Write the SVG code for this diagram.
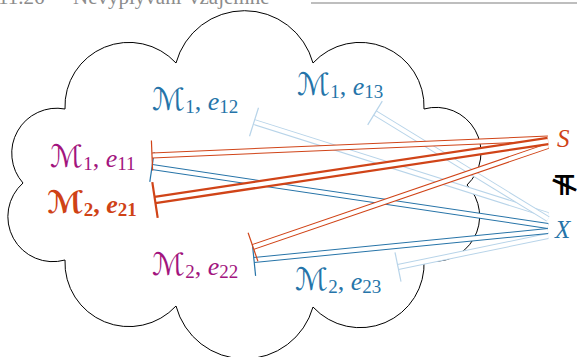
<svg xmlns="http://www.w3.org/2000/svg" xmlns:xlink="http://www.w3.org/1999/xlink" width="577" height="357" viewBox="0 0 577 357">
  <style>
    .cloud { fill: #ffffff; stroke: #000000; stroke-width: 1; }
    .head { font-family: "Liberation Serif", serif; font-size: 21px; fill: #8c8c8c; }
    .rule { stroke: #a8a8a8; stroke-width: 1.5; }
    .lbl { font-family: "Liberation Serif", "DejaVu Serif", serif; font-size: 26px; }
    .cal { font-family: "DejaVu Serif", "DejaVu Sans", serif; font-size: 31px; }
    .it { font-style: italic; }
    .sub { font-size: 19px; }
    .bold { font-weight: bold; }
    .purple { fill: #a2147e; }
    .red { fill: #cf4216; }
    .blue { fill: #2574a9; }
    .var { font-family: "Liberation Serif", serif; font-style: italic; font-size: 25px; }
    .nm { font-family: "DejaVu Sans", sans-serif; font-size: 27px; font-weight: bold; fill: #000000; }
    .out { fill: none; stroke-width: 6; stroke-linecap: butt; }
    .out.thick { stroke-width: 8.5; }
    .in { fill: none; stroke: #ffffff; stroke-width: 4; stroke-linecap: butt; }
    .bar { fill: none; stroke-width: 1.2; }
    .bar.thick { stroke-width: 2.2; }
    .s-red { stroke: #d04418; }
    .s-blue { stroke: #2774a8; }
    .s-light { stroke: #b8d4e9; }
  </style>
  <defs>
    <path id="p-e11-S" d="M152,155.5 L548,138.5"/>
    <path id="p-e11-X" d="M152,167 L548,226"/>
    <path id="p-e21-S" d="M155,200 L548,141"/>
    <path id="p-e12-X" d="M254,122 L548,215"/>
    <path id="p-e13-X" d="M375,113 L548,219"/>
    <path id="p-e22-S" d="M253,247 L548,146"/>
    <path id="p-e22-X" d="M254,260 L548,231"/>
    <path id="p-e23-X" d="M398,267 L548,236"/>
  </defs>

  <!-- running head, mostly above the page edge -->
  <text class="head" y="4"><tspan x="-2">11.26</tspan><tspan x="73">Nevyplývání</tspan><tspan x="189">vzájemné</tspan></text>
  <line class="rule" x1="311" y1="3" x2="577" y2="3"/>

  <!-- the cloud of models -->
  <path class="cloud" d="M23,183 A45,45 0 0 1 65,109 A64,64 0 0 1 176,63 A71,71 0 0 1 313,63 A64,64 0 0 1 424,109 A45,45 0 0 1 467,185 A45,45 0 0 1 424,260 A64,64 0 0 1 313,307 A71,71 0 0 1 176,306 A64,64 0 0 1 65,260 A45,45 0 0 1 23,183 Z"/>

  <!-- double connectors with a bar at the model end -->
  <g id="connectors">
    <g id="e12-X">
      <use xlink:href="#p-e12-X" class="out s-light"/>
      <use xlink:href="#p-e12-X" class="in"/>
      <line class="bar s-light" x1="249.5" y1="136.3" x2="258.5" y2="107.7"/>
    </g>
    <g id="e13-X">
      <use xlink:href="#p-e13-X" class="out s-light"/>
      <use xlink:href="#p-e13-X" class="in"/>
      <line class="bar s-light" x1="367.7" y1="124.9" x2="382.3" y2="101.1"/>
    </g>
    <g id="e23-X">
      <use xlink:href="#p-e23-X" class="out s-light"/>
      <use xlink:href="#p-e23-X" class="in"/>
      <line class="bar s-light" x1="401" y1="281.7" x2="395" y2="252.3"/>
    </g>
    <g id="e11-X">
      <use xlink:href="#p-e11-X" class="out s-blue"/>
      <use xlink:href="#p-e11-X" class="in"/>
      <line class="bar s-blue" x1="149.8" y1="181.8" x2="154.2" y2="152.2"/>
    </g>
    <g id="e22-X">
      <use xlink:href="#p-e22-X" class="out s-blue"/>
      <use xlink:href="#p-e22-X" class="in"/>
      <line class="bar s-blue" x1="255.6" y1="275.9" x2="252.4" y2="244.1"/>
    </g>
    <g id="e11-S">
      <use xlink:href="#p-e11-S" class="out s-red"/>
      <use xlink:href="#p-e11-S" class="in"/>
      <line class="bar s-red" x1="152.6" y1="170.5" x2="151.4" y2="140.5"/>
    </g>
    <g id="e22-S">
      <use xlink:href="#p-e22-S" class="out s-red"/>
      <use xlink:href="#p-e22-S" class="in"/>
      <line class="bar s-red" x1="257.9" y1="261.2" x2="248.1" y2="232.8"/>
    </g>
    <g id="e21-S">
      <use xlink:href="#p-e21-S" class="out thick s-red"/>
      <use xlink:href="#p-e21-S" class="in"/>
      <line class="bar thick s-red" x1="157.7" y1="217.8" x2="152.3" y2="182.2"/>
    </g>
  </g>

  <!-- model labels -->
  <g id="m1-e11">
    <text class="lbl purple" x="50" y="167"><tspan class="cal">ℳ</tspan><tspan class="sub" dy="3">1</tspan><tspan dy="-3">, </tspan><tspan class="it">e</tspan><tspan class="sub" dy="3">11</tspan></text>
  </g>
  <g id="m2-e21">
    <text class="lbl red bold" x="47" y="213"><tspan class="cal">ℳ</tspan><tspan class="sub" dy="3">2</tspan><tspan dy="-3">, </tspan><tspan class="it">e</tspan><tspan class="sub" dy="3">21</tspan></text>
  </g>
  <g id="m1-e12">
    <text class="lbl blue" x="152" y="110"><tspan class="cal">ℳ</tspan><tspan class="sub" dy="3">1</tspan><tspan dy="-3">, </tspan><tspan class="it">e</tspan><tspan class="sub" dy="3">12</tspan></text>
  </g>
  <g id="m1-e13">
    <text class="lbl blue" x="297" y="95"><tspan class="cal">ℳ</tspan><tspan class="sub" dy="3">1</tspan><tspan dy="-3">, </tspan><tspan class="it">e</tspan><tspan class="sub" dy="3">13</tspan></text>
  </g>
  <g id="m2-e22">
    <text class="lbl purple" x="152" y="275"><tspan class="cal">ℳ</tspan><tspan class="sub" dy="3">2</tspan><tspan dy="-3">, </tspan><tspan class="it">e</tspan><tspan class="sub" dy="3">22</tspan></text>
  </g>
  <g id="m2-e23">
    <text class="lbl blue" x="295" y="290"><tspan class="cal">ℳ</tspan><tspan class="sub" dy="3">2</tspan><tspan dy="-3">, </tspan><tspan class="it">e</tspan><tspan class="sub" dy="3">23</tspan></text>
  </g>

  <!-- formulas -->
  <g id="S">
    <text class="var red" x="557" y="147">S</text>
  </g>
  <g id="not-models">
    <text class="nm" transform="translate(564,185) rotate(90)" text-anchor="middle" y="9">⊭</text>
  </g>
  <g id="X">
    <text class="var blue" x="555" y="238">X</text>
  </g>
</svg>
